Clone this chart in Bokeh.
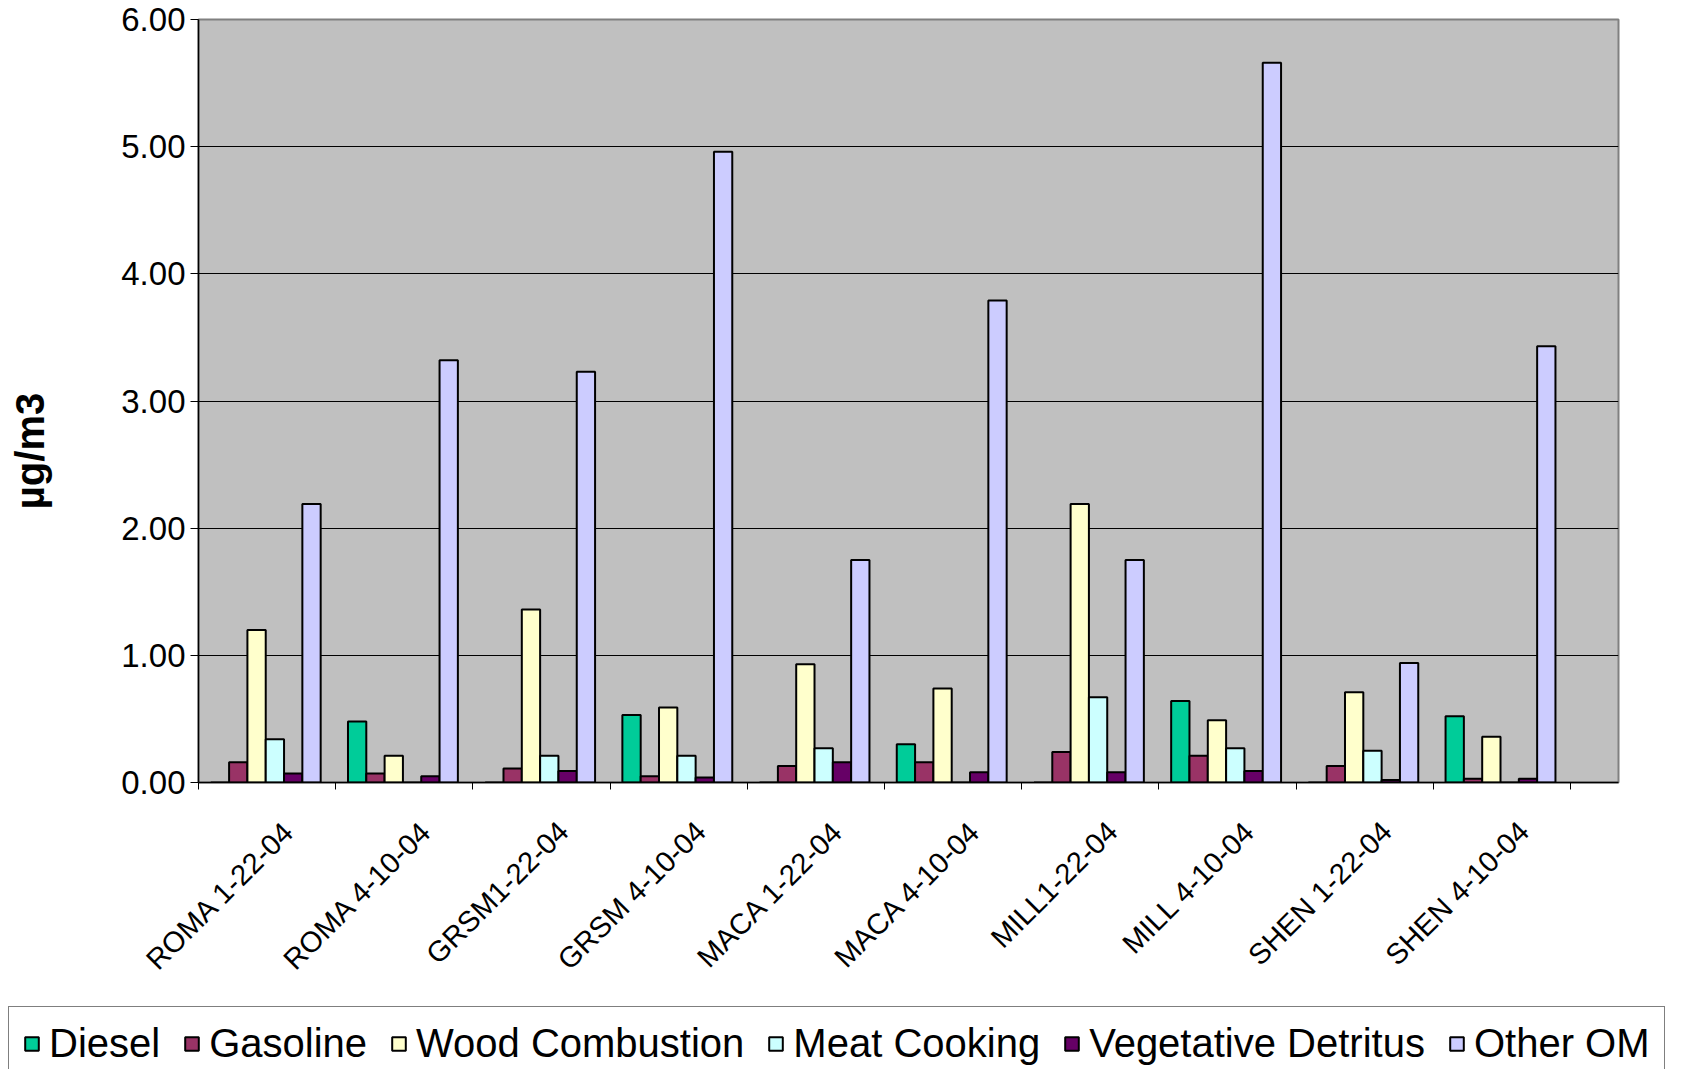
from bokeh.plotting import figure
from bokeh.models import Range1d, FixedTicker, Legend, LegendItem, PrintfTickFormatter
from bokeh.layouts import column
from bokeh.embed import file_html
from bokeh.resources import INLINE
import math

categories = ["ROMA 1-22-04", "ROMA 4-10-04", "GRSM1-22-04", "GRSM 4-10-04", "MACA 1-22-04",
              "MACA 4-10-04", "MILL1-22-04", "MILL 4-10-04", "SHEN 1-22-04", "SHEN 4-10-04"]
series_names = ["Diesel", "Gasoline", "Wood Combustion", "Meat Cooking", "Vegetative Detritus", "Other OM"]
diesel = [0.00, 0.48, 0.00, 0.53, 0.00, 0.30, 0.00, 0.64, 0.00, 0.52]
gasoline = [0.16, 0.07, 0.11, 0.05, 0.13, 0.16, 0.24, 0.21, 0.13, 0.03]
wood = [1.20, 0.21, 1.36, 0.59, 0.93, 0.74, 2.19, 0.49, 0.71, 0.36]
meat = [0.34, 0.00, 0.21, 0.21, 0.27, 0.00, 0.67, 0.27, 0.25, 0.00]
veg = [0.07, 0.05, 0.09, 0.04, 0.16, 0.08, 0.08, 0.09, 0.02, 0.03]
other = [2.19, 3.32, 3.23, 4.96, 1.75, 3.79, 1.75, 5.66, 0.94, 3.43]
y_ticks = [0, 1, 2, 3, 4, 5, 6]

colors = ["#00CC99", "#993366", "#FFFFCC", "#CCFFFF", "#660066", "#CCCCFF"]
series = [diesel, gasoline, wood, meat, veg, other]

FONT = "Liberation Sans"
X_END = 10.35

p = figure(width=1689, height=998, x_range=Range1d(0, X_END), y_range=Range1d(0, 6),
           output_backend="svg", toolbar_location=None,
           min_border_left=198, min_border_right=71, min_border_top=19, min_border_bottom=216)
p.frame_align = False
p.background_fill_color = "#C0C0C0"
p.border_fill_color = "white"
p.outline_line_color = "#808080"
p.outline_line_width = 2

bw = 0.1335
bar_x = []
for j, (name, vals, col) in enumerate(zip(series_names, series, colors)):
    xs = [i + 0.49 + (j - 2.5) * bw for i in range(len(categories))]
    bar_x.append(xs)
    p.vbar(x=xs, top=vals, bottom=0, width=bw, fill_color=col,
           line_color="black", line_width=2)

# x axis
label_ticks = [i + 0.66 for i in range(len(categories))]
p.xaxis.ticker = FixedTicker(ticks=label_ticks, minor_ticks=list(range(len(categories) + 1)))
p.xaxis.major_label_overrides = {t: c for t, c in zip(label_ticks, categories)}
p.xaxis.major_label_orientation = math.pi / 4
p.xaxis.major_tick_line_color = None
p.xaxis.minor_tick_in = 0
p.xaxis.minor_tick_out = 7
p.xaxis.minor_tick_line_color = "black"
p.xaxis.axis_line_color = "black"
p.xaxis.axis_line_width = 1.5
p.xaxis.major_label_standoff = 37
p.xaxis.major_label_text_font = FONT
p.xaxis.major_label_text_font_size = "29px"
p.xaxis.major_label_text_color = "black"

# y axis
p.yaxis.ticker = FixedTicker(ticks=y_ticks)
p.yaxis.formatter = PrintfTickFormatter(format="%.2f")
p.yaxis.minor_tick_line_color = None
p.yaxis.major_tick_in = 0
p.yaxis.major_tick_out = 8
p.yaxis.major_tick_line_color = "black"
p.yaxis.axis_line_color = "black"
p.yaxis.axis_line_width = 1.5
p.yaxis.major_label_standoff = 5
p.yaxis.major_label_text_font = FONT
p.yaxis.major_label_text_font_size = "33px"
p.yaxis.major_label_text_color = "black"
p.yaxis.axis_label = "µg/m3" + "\u00a0" * 9
p.yaxis.axis_label_text_font = FONT
p.yaxis.axis_label_text_font_size = "40px"
p.yaxis.axis_label_text_font_style = "bold"
p.yaxis.axis_label_text_color = "black"
p.yaxis.axis_label_standoff = 66

p.xgrid.grid_line_color = None
p.ygrid.grid_line_color = "black"
p.ygrid.grid_line_width = 1

# legend strip: same series drawn tiny at its bottom edge, hidden under the legend box
pl = figure(width=1689, height=71, x_range=Range1d(0, X_END), y_range=Range1d(0, 1000),
            output_backend="svg", toolbar_location=None,
            x_axis_location=None, y_axis_location=None, min_border=0)
pl.frame_align = False
pl.min_border_left = pl.min_border_right = pl.min_border_top = pl.min_border_bottom = 0
pl.outline_line_color = None
pl.background_fill_color = "white"
pl.border_fill_color = "white"
pl.xgrid.grid_line_color = None
pl.ygrid.grid_line_color = None
items = []
for name, xs, vals, col in zip(series_names, bar_x, series, colors):
    r = pl.vbar(x=xs, top=vals, bottom=0, width=bw, fill_color=col, line_color="black", line_width=2)
    items.append(LegendItem(label=name, renderers=[r]))
legend = Legend(items=items, orientation="horizontal", location="top_left",
                label_text_font=FONT, label_text_font_size="40px", label_text_color="black",
                glyph_width=17, glyph_height=17, label_standoff=9, spacing=23, padding=14,
                border_line_color="black", border_line_width=1.5,
                background_fill_color="white", background_fill_alpha=1.0, margin=8)
pl.add_layout(legend, "center")

layout = column(p, pl, spacing=0)
open("out.html", "w").write(file_html(layout, INLINE))
